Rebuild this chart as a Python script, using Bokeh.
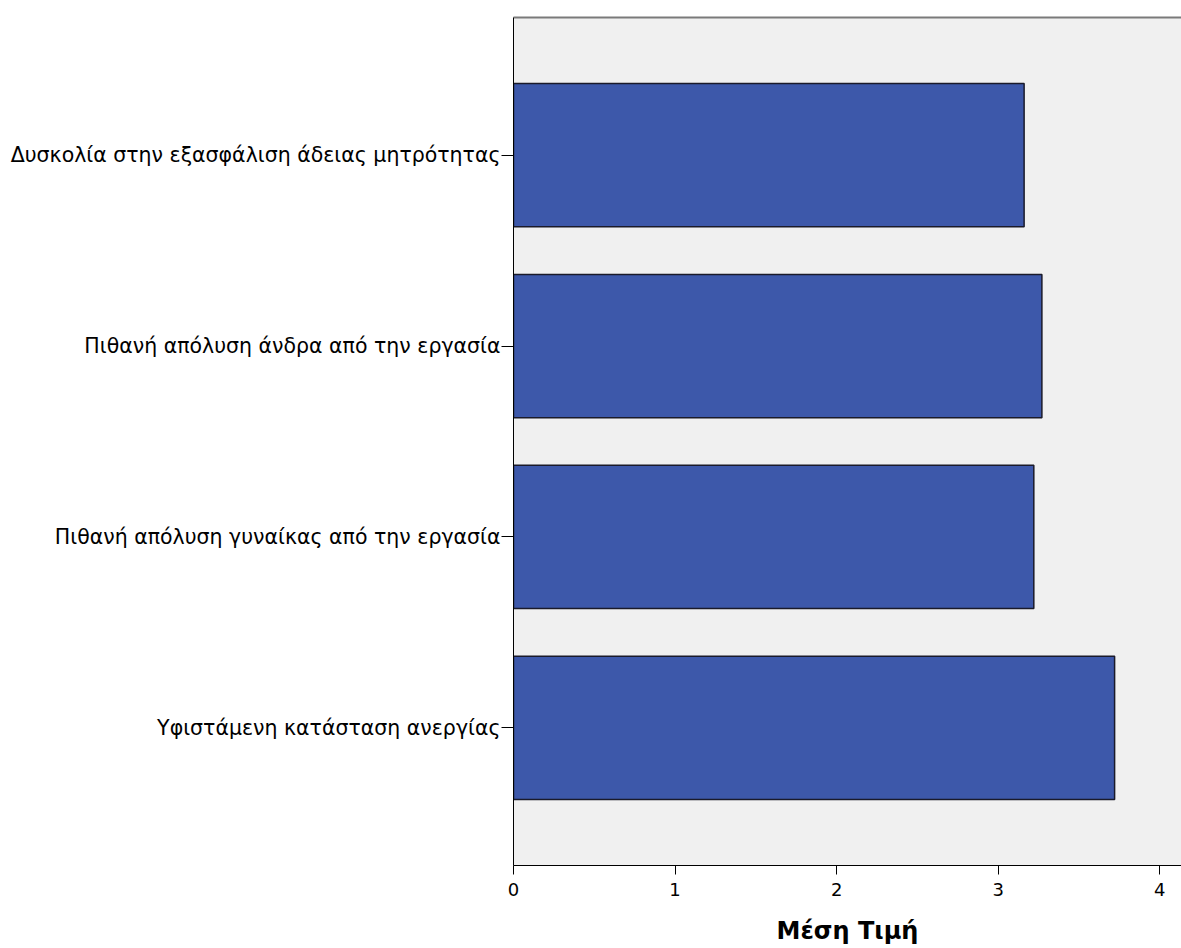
from bokeh.plotting import figure
from bokeh.models import FactorRange, Range1d, LinearAxis, FixedTicker
from bokeh.embed import file_html
from bokeh.resources import INLINE

categories = [
    "Δυσκολία στην εξασφάλιση άδειας μητρότητας",
    "Πιθανή απόλυση άνδρα από την εργασία",
    "Πιθανή απόλυση γυναίκας από την εργασία",
    "Υφιστάμενη κατάσταση ανεργίας",
]
means = [3.16, 3.27, 3.22, 3.72]
x_ticks = [0, 1, 2, 3, 4]

factors = list(reversed(categories))

p = figure(
    width=1181, height=948,
    y_range=FactorRange(factors=factors, range_padding=0.11, range_padding_units="percent"),
    x_range=Range1d(0, 4.134),
    output_backend="svg", toolbar_location=None,
    min_border_left=513, min_border_right=0, min_border_top=17, min_border_bottom=83,
)
p.hbar(y=categories, right=means, left=0, height=0.75,
       fill_color="#3D58AA", line_color="#1A1A2A", line_width=1.5)

p.background_fill_color = "#F0F0F0"
p.border_fill_color = "white"
p.outline_line_color = None
p.xgrid.visible = False
p.ygrid.visible = False

font = "DejaVu Sans"
xa = p.xaxis[0]
xa.ticker = FixedTicker(ticks=x_ticks)
xa.minor_tick_line_color = None
xa.major_tick_in = 0
xa.major_tick_out = 9
xa.major_tick_line_color = "black"
xa.axis_line_color = "black"
xa.major_label_text_font = font
xa.major_label_text_font_size = "18px"
xa.major_label_text_color = "black"
xa.major_label_standoff = 8
xa.axis_label = "Μέση Τιμή"
xa.axis_label_text_font = font
xa.axis_label_text_font_style = "bold"
xa.axis_label_text_font_size = "24px"
xa.axis_label_text_color = "black"
xa.axis_label_standoff = 18

ya = p.yaxis[0]
ya.major_tick_in = 0
ya.major_tick_out = 12
ya.major_tick_line_color = "black"
ya.axis_line_color = "black"
ya.major_label_text_font = font
ya.major_label_text_font_size = "20.5px"
ya.major_label_text_color = "black"
ya.major_label_standoff = 1

top = LinearAxis(ticker=FixedTicker(ticks=[]), major_label_text_font_size="0px",
                 axis_line_color="#7A7A7A", axis_line_width=2,
                 major_tick_line_color=None, minor_tick_line_color=None)
p.add_layout(top, "above")

open("out.html", "w").write(file_html(p, INLINE))
